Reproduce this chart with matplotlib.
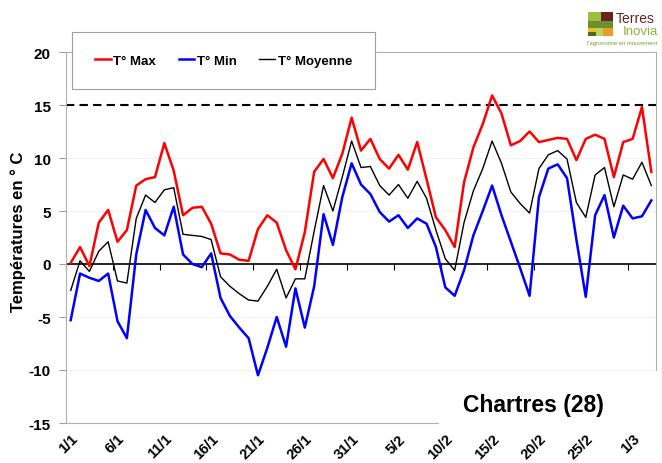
import matplotlib.pyplot as plt
from matplotlib.patches import Rectangle

plt.rcParams['font.family'] = ['Liberation Sans', 'DejaVu Sans']
plt.rcParams['axes.unicode_minus'] = False

# daily temperatures, 1/1 -> 3/3
t_max = [0.1, 1.6, -0.2, 3.9, 5.1, 2.1, 3.2, 7.4, 8.0, 8.2, 11.4, 8.8, 4.6,
         5.3, 5.4, 3.8, 1.0, 0.9, 0.4, 0.3, 3.3, 4.6, 3.9, 1.3, -0.5, 3.0,
         8.7, 9.9, 8.1, 10.4, 13.8, 10.7, 11.8, 9.9, 9.0, 10.3, 8.9, 11.5,
         8.0, 4.4, 3.2, 1.6, 7.7, 11.0, 13.2, 15.9, 14.2, 11.2, 11.6, 12.5, 11.5,
         11.7, 11.9, 11.8, 9.8, 11.8, 12.2, 11.8, 8.2, 11.5, 11.8, 14.8, 8.7]
t_min = [-5.3, -0.9, -1.3, -1.6, -0.9, -5.4, -7.0, 0.9, 5.1, 3.4, 2.7, 5.4, 0.9,
         0.0, -0.3, 1.0, -3.2, -4.9, -6.0, -7.0, -10.5, -7.9, -5.0, -7.8, -2.3, -6.0,
         -2.1, 4.7, 1.8, 6.3, 9.5, 7.5, 6.6, 4.9, 4.0, 4.6, 3.4, 4.3,
         3.8, 1.6, -2.2, -3.0, -0.6, 2.7, 5.0, 7.4, 4.6, 2.1, -0.4, -3.0, 6.3,
         9.0, 9.4, 8.1, 2.3, -3.1, 4.6, 6.5, 2.5, 5.5, 4.3, 4.5, 6.0]
t_moy = [-2.5, 0.3, -0.7, 1.2, 2.1, -1.6, -1.8, 4.3, 6.5, 5.8, 7.0, 7.2, 2.8,
         2.7, 2.6, 2.3, -1.2, -2.1, -2.8, -3.4, -3.5, -2.1, -0.5, -3.2, -1.4, -1.4,
         3.1, 7.4, 5.0, 8.2, 11.6, 9.1, 9.2, 7.4, 6.5, 7.5, 6.2, 7.8,
         6.2, 3.2, 0.5, -0.6, 3.9, 6.9, 9.0, 11.6, 9.5, 6.8, 5.7, 4.8, 9.0,
         10.3, 10.7, 9.9, 5.8, 4.4, 8.4, 9.1, 5.4, 8.4, 8.0, 9.6, 7.4]
tick_labels = ['1/1', '6/1', '11/1', '16/1', '21/1', '26/1', '31/1',
               '5/2', '10/2', '15/2', '20/2', '25/2', '1/3']
seuil = 15

days = list(range(len(t_max)))
W, H = 662, 464


def px_rect(x, y, w, h, color):
    # rectangle given in pixel coords (top-left origin)
    return Rectangle((x / W, 1 - (y + h) / H), w / W, h / H, transform=fig.transFigure,
                     facecolor=color, edgecolor='none')


fig = plt.figure(figsize=(W / 100, H / 100), dpi=100)
ax = fig.add_axes([66 / W, 1 - 424 / H, (656 - 66) / W, (424 - 53) / H])

for y in [10, 5, -5, -10]:
    ax.axhline(y, color='#f2f2f2', lw=0.8, zorder=0)
ax.axhline(seuil, color='black', lw=1.5, ls=(0, (4, 2.5)), zorder=1)
ax.axhline(0, color='black', lw=1.2, zorder=1.5)

ax.plot(days, t_max, color='#ff0000', lw=1.8, label='T° Max', zorder=3)
ax.plot(days, t_min, color='#0000ff', lw=1.8, label='T° Min', zorder=3)
ax.plot(days, t_moy, color='black', lw=1.0, label='T° Moyenne', zorder=3)

ax.set_xlim(-0.5, 62.5)
ax.set_ylim(-15, 20)
ax.set_yticks(range(-15, 21, 5))
ax.tick_params(axis='y', length=5, width=0.8, color='#a0a0a0', pad=6, labelsize=11)
for lab in ax.get_yticklabels():
    lab.set_fontweight('bold')
ax.set_xticks(days[::5])
ax.set_xticklabels(tick_labels, rotation=45, ha='right', va='top',
                   rotation_mode='anchor', fontsize=10.5, fontweight='bold')
ax.tick_params(axis='x', length=0, pad=6)
for s in ax.spines.values():
    s.set_color('#b0b0b0')
    s.set_linewidth(0.8)

# tick marks on the zero line
zero = ax.secondary_xaxis(15 / 35)
zero.set_xticks([d - 0.5 for d in days[::5]])
zero.tick_params(length=4, width=0.8, color='black', direction='out', labelbottom=False)
zero.spines['bottom'].set_visible(False)

leg = ax.legend(loc='center', bbox_to_anchor=((75 + 372) / 2 / W, 1 - 61.5 / H),
                bbox_transform=fig.transFigure, ncol=3, fancybox=False,
                edgecolor='#a0a0a0', framealpha=1, prop={'weight': 'bold', 'size': 9.5},
                handlelength=1.2, handletextpad=0.2, columnspacing=1.7,
                borderpad=1.7, borderaxespad=0)
leg.get_frame().set_linewidth(0.8)

fig.text(18 / W, 1 - 231.5 / H, 'Températures en ° C', rotation=90, ha='center',
         va='center', fontsize=12, fontweight='bold')

# white box with station name
box = px_rect(439, 372, W - 439, 56, 'white')
box.set_zorder(5)
fig.add_artist(box)
fig.text(533 / W, 1 - 406 / H, 'Chartres (28)', ha='center', va='center',
         fontsize=16.5, fontweight='bold', zorder=6)

# logo
for x, y, w, h, c in [(588, 13, 13, 9, '#9cbf3e'), (601, 13, 12, 9, '#6b2320'),
                      (588, 22, 25, 7, '#6e8f2e'), (588, 29, 8, 4, '#e8c12a'),
                      (588, 33, 8, 4, '#4e6a22'), (596, 29, 7, 8, '#b9d45c'),
                      (603, 29, 10, 8, '#ee9b2c')]:
    fig.add_artist(px_rect(x, y, w, h, c))
fig.text(616 / W, 1 - 19 / H, 'Terres', color='#6b2320', fontsize=10, va='center')
fig.text(623 / W, 1 - 32 / H, 'Inovia', color='#8cb43c', fontsize=9.5, va='center')
fig.text(587 / W, 1 - 43 / H, "l'agronomie en mouvement", color='#7aa032', fontsize=4.2,
         va='center')

fig.savefig('out.png', dpi=100)
